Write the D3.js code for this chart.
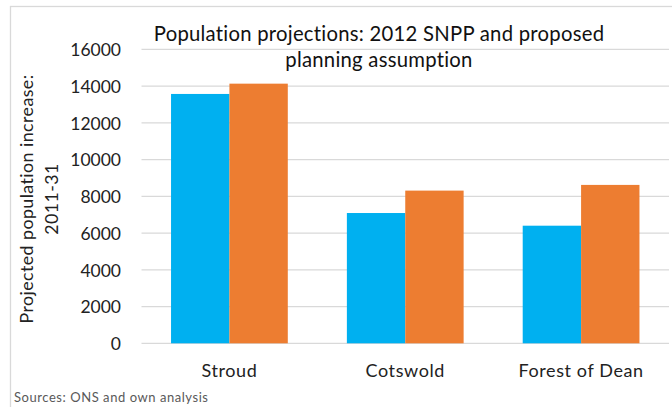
<!DOCTYPE html>
<html>
<head>
<meta charset="utf-8">
<script src="https://cdn.jsdelivr.net/npm/d3@7"></script>
<style>
  html, body { margin: 0; padding: 0; background: #fff; }
  svg { display: block; font-family: Lato, "Open Sans", sans-serif; }
</style>
</head>
<body>
<svg id="chart" width="672" height="407"></svg>
<script>
const categories = ["Stroud", "Cotswold", "Forest of Dean"];
const seriesNames = ["2012 SNPP", "Proposed planning assumption"];
const snppValues = [13570, 7090, 6400];
const planningValues = [14130, 8310, 8620];
const yTicks = [0, 2000, 4000, 6000, 8000, 10000, 12000, 14000, 16000];
const titleLines = ["Population projections: 2012 SNPP and proposed", "planning assumption"];
const yTitleLines = ["Projected population increase:", "2011-31"];
const sourceNote = "Sources: ONS and own analysis";
const colors = ["#00B0F0", "#ED7D31"];

const svg = d3.select("#chart");
const W = 672, H = 407;
const m = { left: 141.5, right: 669, top: 49.3, bottom: 343.3 };

// outer chart border
svg.append("rect").attr("x", 10.5).attr("y", 6.5).attr("width", W + 10).attr("height", H + 10)
  .attr("fill", "#fff").attr("stroke", "#d9d9d9").attr("stroke-width", 1.3);

const x0 = d3.scaleBand().domain(categories).range([m.left, m.right]).paddingInner(0.336).paddingOuter(0.168);
const x1 = d3.scaleBand().domain(seriesNames).range([0, x0.bandwidth()]).padding(0);
const y = d3.scaleLinear().domain([0, 16000]).range([m.bottom, m.top]);

// gridlines
svg.append("g").selectAll("line").data(yTicks).join("line")
  .attr("x1", m.left).attr("x2", m.right)
  .attr("y1", d => y(d)).attr("y2", d => y(d))
  .attr("stroke", "#d9d9d9").attr("stroke-width", 1.3);

// y axis labels
const yAxis = d3.axisLeft(y).tickValues(yTicks).tickSize(0).tickPadding(0).tickFormat(d3.format("d"));
const ya = svg.append("g").attr("transform", `translate(121,0)`).call(yAxis);
ya.select(".domain").remove();
ya.selectAll("text").attr("font-family", "Lato, sans-serif").attr("font-size", 17.5).attr("fill", "#222").attr("dy", "0.36em");

// bars
const data = categories.map((c, i) => ({ cat: c, vals: [snppValues[i], planningValues[i]] }));
svg.append("g").selectAll("g").data(data).join("g")
  .attr("transform", d => `translate(${x0(d.cat)},0)`)
  .selectAll("rect").data(d => d.vals.map((v, j) => ({ s: seriesNames[j], v, j })))
  .join("rect")
  .attr("x", d => x1(d.s)).attr("width", x1.bandwidth())
  .attr("y", d => y(d.v)).attr("height", d => y(0) - y(d.v))
  .attr("fill", d => colors[d.j]);

// x axis labels
const xAxis = d3.axisBottom(x0).tickSize(0).tickPadding(0);
const xa = svg.append("g").attr("transform", `translate(0,${m.bottom})`).call(xAxis);
xa.select(".domain").remove();
xa.selectAll("text").attr("font-family", "Lato, sans-serif").attr("font-size", 18).attr("fill", "#222")
  .attr("letter-spacing", 0.6).attr("dy", null).attr("y", 33.5);

// title
svg.append("text").attr("text-anchor", "middle").attr("font-size", 20.3).attr("fill", "#111")
  .attr("letter-spacing", 0.25)
  .selectAll("tspan").data(titleLines).join("tspan")
  .attr("x", 379).attr("y", (d, i) => 41 + i * 25.5).text(d => d);

// y title
svg.append("text").attr("text-anchor", "middle").attr("font-size", 17.8).attr("fill", "#222")
  .attr("letter-spacing", 0.45)
  .attr("transform", "translate(0,199) rotate(-90)")
  .selectAll("tspan").data(yTitleLines).join("tspan")
  .attr("x", 0).attr("y", (d, i) => 33 + i * 25).text(d => d);

// source
svg.append("text").attr("x", 14).attr("y", 402).attr("font-size", 13).attr("letter-spacing", 0.55)
  .attr("fill", "#595959").text(sourceNote);
</script>
</body>
</html>
